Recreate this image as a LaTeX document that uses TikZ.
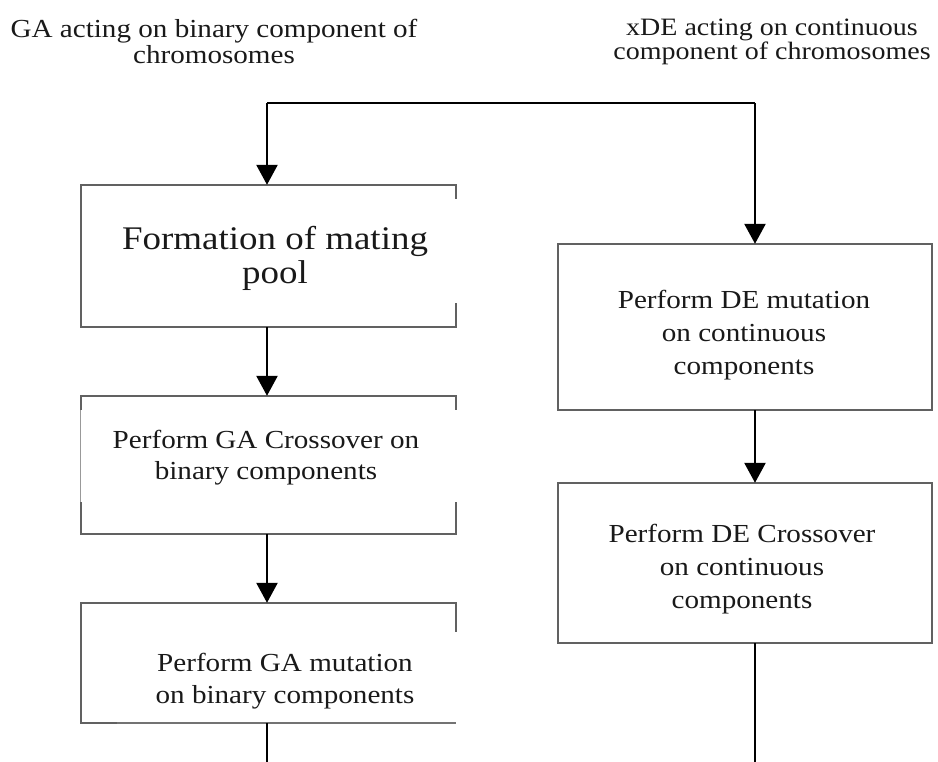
\documentclass[tikz,border=0pt]{standalone}
\usepackage{fontspec}
\setmainfont{Liberation Serif}[FakeStretch=1.12]
\usetikzlibrary{arrows.meta}
\begin{document}
\begin{tikzpicture}[x=1pt,y=-1pt,
  boxedge/.style={draw=black!62, line width=2.4pt},
  thinedge/.style={draw=black!40, line width=0.8pt},
  midedge/.style={draw=black!55, line width=1.5pt},
  flow/.style={draw=black, line width=2.6pt, -{Triangle[width=21pt,length=20pt]}},
  plainline/.style={draw=black, line width=2pt},
  box/.style={draw=none, rectangle, inner sep=0pt, minimum width=375pt},
  txt/.style={align=center, font=\fontsize{26}{32}\selectfont, inner sep=0pt, text=black!90},
  ]
\useasboundingbox (0,0) rectangle (938,762);

% box geometry
\node[box, minimum height=142pt] (b1) at (268.5,256) {};
\node[box, minimum height=138pt] (b2) at (268.5,465) {};
\node[box, minimum height=120pt] (b3) at (268.5,663) {};
\node[box, minimum width=374pt, minimum height=166pt] (b4) at (745,327) {};
\node[box, minimum width=374pt, minimum height=160pt] (b5) at (745,563) {};

% borders
\draw[boxedge] ([yshift=-14pt]b1.north east) -- (b1.north east) -- (b1.north west)
  -- (b1.south west) -- (b1.south east) -- ([yshift=24pt]b1.south east);
\draw[boxedge] ([yshift=-14pt]b2.north east) -- (b2.north east) -- (b2.north west)
  -- ([yshift=-14pt]b2.north west);
\draw[thinedge] ([yshift=-14pt]b2.north west) -- ([yshift=32pt]b2.south west);
\draw[boxedge] ([yshift=32pt]b2.south west) -- (b2.south west) -- (b2.south east)
  -- ([yshift=32pt]b2.south east);
\draw[boxedge] ([yshift=-29pt]b3.north east) -- (b3.north east) -- (b3.north west)
  -- (b3.south west) -- ([xshift=36pt]b3.south west);
\draw[midedge] ([xshift=36pt]b3.south west) -- (b3.south east);
\draw[boxedge] (b4.north west) rectangle (b4.south east);
\draw[boxedge] (b5.north west) rectangle (b5.south east);

% texts
\node[txt, font=\fontsize{33}{34}\selectfont] (t1) at (275,258) {Formation of mating\\pool};
\node[txt, font=\fontsize{26}{31}\selectfont] (t2) at (266,458) {Perform GA Crossover on\\binary components};
\node[txt, font=\fontsize{26}{32}\selectfont] (t3) at (285,681) {Perform GA mutation\\on binary components};
\node[txt, font=\fontsize{26}{33}\selectfont] (t4) at (744,335.5) {Perform DE mutation\\on continuous\\components};
\node[txt, font=\fontsize{26}{33}\selectfont] (t5) at (742,569) {Perform DE Crossover\\on continuous\\components};
\node[txt, font=\fontsize{26}{25.5}\selectfont] (h1) at (214,41.5) {GA acting on binary component of\\chromosomes};
\node[txt, font=\fontsize{25}{24.5}\selectfont] (h2) at (772,42) {xDE acting on continuous\\component of chromosomes};

% connectors
\coordinate (split) at (267,103);
\coordinate (turn) at (755,103);
\coordinate (endL) at (267,762);
\coordinate (endR) at (755,762);
\draw[flow] (split) -- (split |- b1.north);
\draw[plainline] (split) -- (turn);
\draw[flow] (turn) -- (turn |- b4.north);
\draw[flow] (split |- b1.south) -- (split |- b2.north);
\draw[flow] (split |- b2.south) -- (split |- b3.north);
\draw[flow] (turn |- b4.south) -- (turn |- b5.north);
\draw[plainline] (split |- b3.south) -- (endL);
\draw[plainline] (turn |- b5.south) -- (endR);
\end{tikzpicture}
\end{document}
